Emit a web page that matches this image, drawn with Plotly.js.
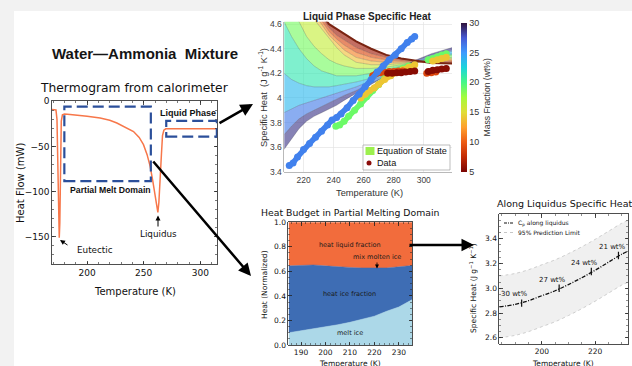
<!DOCTYPE html>
<html><head><meta charset="utf-8">
<script src="https://cdn.plot.ly/plotly-3.0.1.min.js"></script>
<style>html,body{margin:0;padding:0;background:#f2f2f2;}#chart{width:632px;height:366px;}</style>
</head><body><div id="chart"></div>
<script>
// ================= DATA =================
// Thermogram from calorimeter
const thermoT  = [169, 171, 172.5, 173.4, 174.2, 174.9, 175.4, 175.9, 176.5, 177.2, 178.2, 180, 185, 190, 200, 211.5, 220, 226.3, 233, 241, 246, 249.8, 253, 255.7, 258, 260.2, 261.6, 262.5, 263.4, 264.6, 265.6, 266.6, 267.8, 269.5, 275, 290, 305, 315];
const thermoHF = [-9, -9, -9.5, -20, -75, -135, -151, -135, -60, -22, -15, -14, -14.5, -15, -16.5, -18.6, -21, -24, -28, -33.4, -40, -48, -59, -72, -88, -105, -117, -123, -112, -90, -60, -38, -32, -30.5, -30.5, -30.4, -30.5, -30.5];
const thermoXTicks = [200, 250, 300];
const thermoYTicks = [0, -50, -100, -150];

// Liquid phase specific heat: equation-of-state curves (one per mass fraction)
const eosT = [207, 212, 217, 222, 227, 232, 237, 242, 247, 255, 265, 275, 285, 295, 305, 319];
const eosWt = [5, 7.5, 10, 12.5, 15, 17.5, 20, 22.5, 25, 27.5, 30];
const eosCp05   = [6.20, 5.80, 5.40, 5.05, 4.80, 4.68, 4.60, 4.56, 4.52, 4.46, 4.40, 4.35, 4.32, 4.30, 4.285, 4.28];
const eosCp07_5 = [6.00, 5.60, 5.20, 4.95, 4.78, 4.66, 4.57, 4.51, 4.47, 4.41, 4.36, 4.33, 4.31, 4.30, 4.29, 4.29];
const eosCp10   = [5.80, 5.40, 5.05, 4.86, 4.72, 4.63, 4.54, 4.48, 4.43, 4.37, 4.33, 4.31, 4.30, 4.29, 4.29, 4.30];
const eosCp12_5 = [5.60, 5.20, 4.92, 4.78, 4.68, 4.60, 4.51, 4.45, 4.39, 4.33, 4.30, 4.29, 4.29, 4.29, 4.30, 4.31];
const eosCp15   = [5.30, 4.98, 4.82, 4.72, 4.64, 4.56, 4.48, 4.41, 4.35, 4.29, 4.27, 4.27, 4.28, 4.29, 4.31, 4.32];
const eosCp17_5 = [5.00, 4.78, 4.62, 4.50, 4.42, 4.36, 4.31, 4.28, 4.26, 4.24, 4.24, 4.25, 4.27, 4.29, 4.32, 4.33];
const eosCp20   = [4.62, 4.50, 4.40, 4.32, 4.26, 4.22, 4.20, 4.18, 4.18, 4.18, 4.20, 4.23, 4.26, 4.29, 4.32, 4.35];
const eosCp22_5 = [4.20, 4.15, 4.12, 4.10, 4.09, 4.09, 4.09, 4.10, 4.11, 4.13, 4.16, 4.20, 4.25, 4.29, 4.33, 4.36];
const eosCp25   = [3.88, 3.91, 3.94, 3.96, 3.98, 4.00, 4.02, 4.04, 4.06, 4.09, 4.14, 4.19, 4.24, 4.29, 4.34, 4.38];
const eosCp27_5 = [3.70, 3.77, 3.83, 3.87, 3.90, 3.93, 3.96, 3.99, 4.02, 4.06, 4.12, 4.18, 4.24, 4.30, 4.35, 4.39];
const eosCp30   = [3.58, 3.67, 3.75, 3.81, 3.85, 3.88, 3.91, 3.94, 3.98, 4.04, 4.11, 4.18, 4.25, 4.31, 4.36, 4.41];
const eosCurves = [eosCp05, eosCp07_5, eosCp10, eosCp12_5, eosCp15, eosCp17_5, eosCp20, eosCp22_5, eosCp25, eosCp27_5, eosCp30];

// Liquid phase measured data (mass fraction wt% per series)
const blueWt = 26;
const blueT  = [210.5, 213, 216, 220, 224, 228, 232, 236, 239, 242, 245, 249, 253, 257, 261, 265, 269, 273, 277, 281, 285, 289, 292, 294];
const blueCp = [3.45, 3.47, 3.52, 3.58, 3.63, 3.68, 3.73, 3.78, 3.82, 3.84, 3.87, 3.92, 3.98, 4.03, 4.09, 4.15, 4.21, 4.26, 4.31, 4.35, 4.40, 4.45, 4.48, 4.50];
const greenWt = 19;
const greenT  = [241.5, 244, 247, 250, 254, 258, 262, 266, 270, 274, 278, 282, 286, 290, null, 303, 306, 309, 312, 315];
const greenCp = [3.77, 3.78, 3.81, 3.85, 3.90, 3.95, 4.01, 4.06, 4.11, 4.16, 4.19, 4.22, 4.24, 4.26, null, 4.31, 4.32, 4.335, 4.35, 4.36];
const yellowWt = 14;
const yellowT  = [258, 261, 264, 267, 270, 274, 278, 282, 286, 290, 294, null, 306, 309, 312, 315];
const yellowCp = [4.00, 4.03, 4.06, 4.08, 4.11, 4.15, 4.18, 4.21, 4.23, 4.25, 4.27, null, 4.30, 4.31, 4.32, 4.33];
const orangeWt = 9;
const orangeT  = [266, 268, 271, 274, 277, 280, 283, 286, null, 302, 305, 308];
const orangeCp = [4.18, 4.195, 4.205, 4.21, 4.215, 4.215, 4.22, 4.22, null, 4.20, 4.205, 4.21];
const darkWt = 5.5;
const darkT  = [276, 279, 282, 285, 288, 291, 294, null, 303, 306, 309, 312, 315];
const darkCp = [4.20, 4.20, 4.205, 4.205, 4.21, 4.215, 4.22, null, 4.215, 4.225, 4.23, 4.235, 4.24];
const liqXTicks = [220, 240, 260, 280, 300];
const liqYTicks = [3.4, 3.6, 3.8, 4.0, 4.2, 4.4, 4.6];
const liqYTickText = ['3.4', '3.6', '3.8', '4', '4.2', '4.4', '4.6'];
const cbarTicks = [5, 10, 15, 20, 25, 30];

// Heat budget in partial melting domain (normalized fractions, stacked)
const budgetT     = [185, 190, 195, 200, 205, 210, 215, 220, 225, 230, 235.5];
const meltIce     = [0.10, 0.115, 0.13, 0.145, 0.165, 0.185, 0.21, 0.235, 0.275, 0.31, 0.37];
const heatIce     = [0.545, 0.535, 0.522, 0.50, 0.472, 0.447, 0.418, 0.39, 0.353, 0.327, 0.278];
const heatLiquid  = [0.355, 0.35, 0.348, 0.355, 0.363, 0.368, 0.372, 0.375, 0.372, 0.363, 0.352];
const budgetXTicks = [190, 200, 210, 220, 230];
const budgetYTicks = [0, 0.2, 0.4, 0.6, 0.8, 1.0];

// Along liquidus specific heat
const alongT     = [184, 190, 195, 200, 205, 210, 215, 220, 225, 230, 232.5];
const alongCp    = [2.85, 2.87, 2.90, 2.94, 2.98, 3.03, 3.085, 3.145, 3.21, 3.275, 3.30];
const alongUpper = [3.10, 3.12, 3.15, 3.19, 3.23, 3.28, 3.335, 3.395, 3.46, 3.525, 3.55];
const alongLower = [2.60, 2.62, 2.65, 2.69, 2.73, 2.78, 2.835, 2.895, 2.96, 3.025, 3.05];
const ptT      = [192.4, 206.5, 218.6, 228.8];
const ptCp     = [2.88, 3.00, 3.135, 3.265];
const ptErr    = [0.03, 0.03, 0.03, 0.03];
const ptLabels = ['30 wt%', '27 wt%', '24 wt%', '21 wt%'];
const alongXTicks = [200, 220];
const alongYTicks = [2.6, 2.8, 3.0, 3.2, 3.4];

// ================= HELPERS =================
const W = 632, H = 366;
const X = p => p / W;
const Y = p => 1 - p / H;
const dx = (a, b) => [a / W, b / W];
const dy = (top, bot) => [1 - bot / H, 1 - top / H];
const DJ = 'DejaVu Sans';
const LS = 'Liberation Sans, Arial, sans-serif';

const turboR = [[0, '#7a0403'], [0.1, '#c22a04'], [0.2, '#ed5c14'], [0.3, '#fea02e'], [0.4, '#e1dd37'], [0.5, '#a4fc3b'], [0.6, '#46f884'], [0.7, '#1ad5db'], [0.8, '#3e9bfe'], [0.9, '#4659d4'], [1, '#30123b']];
function hex2rgb(h) { return [parseInt(h.slice(1, 3), 16), parseInt(h.slice(3, 5), 16), parseInt(h.slice(5, 7), 16)]; }
function colorAt(c, a) {
  let t = Math.max(0, Math.min(1, (c - 5) / 25));
  for (let i = 1; i < turboR.length; i++) {
    if (t <= turboR[i][0]) {
      const t0 = turboR[i - 1][0], t1 = turboR[i][0];
      const f = (t - t0) / (t1 - t0);
      const c0 = hex2rgb(turboR[i - 1][1]), c1 = hex2rgb(turboR[i][1]);
      const r = c0.map((v, k) => Math.round(v + (c1[k] - v) * f));
      return `rgba(${r[0]},${r[1]},${r[2]},${a})`;
    }
  }
  return 'rgba(48,18,59,' + a + ')';
}

// ================= TRACES =================
const traces = [];

// Thermogram
traces.push({x: thermoT, y: thermoHF, xaxis: 'x', yaxis: 'y', mode: 'lines',
  line: {color: '#f7774a', width: 1.5}, hoverinfo: 'skip'});

// EOS surface bands
eosCurves.forEach((cp, i) => {
  const tr = {x: eosT, y: cp, xaxis: 'x2', yaxis: 'y2', mode: 'lines',
    line: {color: 'rgba(40,40,40,0.35)', width: 0.6}, hoverinfo: 'skip'};
  if (i > 0) {
    const cm = (eosWt[i] + eosWt[i - 1]) / 2;
    tr.fill = 'tonexty';
    tr.fillcolor = colorAt(cm, 0.62);
  }
  traces.push(tr);
});
traces.push({x: eosT, y: eosCp05, xaxis: 'x2', yaxis: 'y2', mode: 'lines',
  line: {color: '#7a2412', width: 2}, hoverinfo: 'skip'});

// Data series
const series = [[greenT, greenCp, greenWt], [yellowT, yellowCp, yellowWt], [orangeT, orangeCp, orangeWt], [darkT, darkCp, darkWt], [blueT, blueCp, blueWt]];
series.forEach(([t, cp, wt]) => {
  traces.push({x: t, y: cp, xaxis: 'x2', yaxis: 'y2', mode: 'lines', connectgaps: false,
    line: {color: colorAt(wt, 1), width: 5.5}, hoverinfo: 'skip'});
  traces.push({x: t, y: cp, xaxis: 'x2', yaxis: 'y2', mode: 'markers',
    marker: {size: 7, color: t.map(() => wt), coloraxis: 'coloraxis', line: {width: 0}}, hoverinfo: 'skip'});
});

// Heat budget stacked
[[meltIce, '#acd8e8'], [heatIce, '#3e6db4'], [heatLiquid, '#f26c3c']].forEach(([v, col]) => {
  traces.push({x: budgetT, y: v, xaxis: 'x3', yaxis: 'y3', stackgroup: 'hb', mode: 'lines',
    line: {width: 0.5, color: col}, fillcolor: col, hoverinfo: 'skip'});
});

// Along liquidus
traces.push({x: alongT, y: alongLower, xaxis: 'x4', yaxis: 'y4', mode: 'lines',
  line: {color: '#c4c4c4', width: 0.8, dash: 'dot', shape: 'spline'}, hoverinfo: 'skip'});
traces.push({x: alongT, y: alongUpper, xaxis: 'x4', yaxis: 'y4', mode: 'lines', fill: 'tonexty', fillcolor: '#f0f0f0',
  line: {color: '#c4c4c4', width: 0.8, dash: 'dot', shape: 'spline'}, hoverinfo: 'skip'});
traces.push({x: alongT, y: alongCp, xaxis: 'x4', yaxis: 'y4', mode: 'lines',
  line: {color: '#111', width: 1.3, dash: '4px,1.5px,1px,1.5px', shape: 'spline'}, hoverinfo: 'skip'});
traces.push({x: ptT, y: ptCp, xaxis: 'x4', yaxis: 'y4', mode: 'markers',
  marker: {size: 1, color: '#111'},
  error_y: {type: 'data', array: ptErr, visible: true, color: '#111', thickness: 1.2, width: 0}, hoverinfo: 'skip'});

// ================= LAYOUT =================
function mplAxis(domain, range, tickvals, extra) {
  return Object.assign({domain, range, tickvals, ticks: 'inside', ticklen: 3.5, tickwidth: 0.8, tickcolor: '#222',
    mirror: 'allticks', showline: true, linecolor: '#222', linewidth: 0.8, showgrid: false, zeroline: false,
    tickfont: {family: DJ, size: 7.5, color: '#111'}, fixedrange: true}, extra || {});
}

const layout = {
  width: W, height: H, margin: {l: 0, r: 0, t: 0, b: 0},
  paper_bgcolor: '#f2f2f2', plot_bgcolor: 'rgba(255,255,255,0)', showlegend: false,
  font: {family: DJ, color: '#111'},
  xaxis: mplAxis(dx(52, 217.3), [169, 315], thermoXTicks, {anchor: 'y', tickfont: {family: DJ, size: 9, color: '#111'},
    minor: {ticks: 'inside', ticklen: 2, dtick: 10, tickcolor: '#222', tickwidth: 0.6}}),
  yaxis: mplAxis(dy(101.3, 264), [-180, 0], thermoYTicks, {anchor: 'x', tickfont: {family: DJ, size: 9, color: '#111'},
    minor: {ticks: 'inside', ticklen: 2, dtick: 10, tickcolor: '#222', tickwidth: 0.6}}),
  xaxis2: {domain: dx(284.3, 452), range: [207.2, 318.8], tickvals: liqXTicks, anchor: 'y2',
    showgrid: true, gridcolor: '#e4e4e4', gridwidth: 0.7, showline: true, linecolor: '#a8a8a8', linewidth: 0.8,
    ticks: '', zeroline: false, tickfont: {family: LS, size: 8.5, color: '#404040'}},
  yaxis2: {domain: dy(21.7, 171.7), range: [3.4, 4.62], tickvals: liqYTicks, ticktext: liqYTickText, anchor: 'x2',
    showgrid: true, gridcolor: '#e4e4e4', gridwidth: 0.7, showline: true, linecolor: '#a8a8a8', linewidth: 0.8,
    ticks: '', zeroline: false, tickfont: {family: LS, size: 8.5, color: '#404040'}},
  xaxis3: mplAxis(dx(288.3, 412.3), [184.8, 235.5], budgetXTicks, {anchor: 'y3',
    minor: {ticks: 'inside', ticklen: 2, dtick: 2, tickcolor: '#222', tickwidth: 0.5}}),
  yaxis3: mplAxis(dy(222.3, 345), [0, 1], budgetYTicks, {anchor: 'x3', ticktext: ['0.0', '0.2', '0.4', '0.6', '0.8', '1.0'],
    minor: {ticks: 'inside', ticklen: 2, dtick: 0.05, tickcolor: '#222', tickwidth: 0.5}}),
  xaxis4: mplAxis(dx(499.3, 628.3), [184, 232.5], alongXTicks, {anchor: 'y4',
    minor: {ticks: 'inside', ticklen: 2, dtick: 5, tickcolor: '#222', tickwidth: 0.5}}),
  yaxis4: mplAxis(dy(214, 344), [2.55, 3.6], alongYTicks, {anchor: 'x4', ticktext: ['2.6', '2.8', '3.0', '3.2', '3.4'],
    minor: {ticks: 'inside', ticklen: 2, dtick: 0.05, tickcolor: '#222', tickwidth: 0.5}}),
  coloraxis: {cmin: 5, cmax: 30, colorscale: turboR,
    colorbar: {x: X(461), xanchor: 'left', y: Y(97.2), yanchor: 'middle', len: 149, lenmode: 'pixels',
      thickness: 5.5, thicknessmode: 'pixels', outlinewidth: 0, xpad: 0, ypad: 0, ticks: '',
      tickvals: cbarTicks, tickfont: {family: LS, size: 9, color: '#333'}}},
  shapes: [
    {type: 'rect', xref: 'paper', yref: 'paper', x0: X(14), x1: 1, y0: 0, y1: Y(11), fillcolor: '#ffffff', line: {width: 0}, layer: 'below'},
    // thermogram dashed boxes
    {type: 'rect', xref: 'x', yref: 'y', x0: 179.9, x1: 256.3, y0: -88.3, y1: -6, line: {color: '#2b4f9a', width: 2.2, dash: '11px,5px'}},
    {type: 'rect', xref: 'x', yref: 'y', x0: 269.9, x1: 314.6, y0: -39.1, y1: -21.7, line: {color: '#2b4f9a', width: 2.2, dash: '11px,5px'}},
    // liquid legend box
    {type: 'rect', xref: 'paper', yref: 'paper', x0: X(363), x1: X(450), y0: Y(170), y1: Y(145), fillcolor: '#ffffff', line: {color: '#a0a0a0', width: 0.7}},
    {type: 'rect', xref: 'paper', yref: 'paper', x0: X(365.5), x1: X(374.5), y0: Y(155), y1: Y(147), fillcolor: '#9cf04e', line: {width: 0}},
    {type: 'circle', xref: 'paper', yref: 'paper', x0: X(366.5), x1: X(371.5), y0: Y(165.5), y1: Y(160.5), fillcolor: '#8b0d0a', line: {width: 0}},
    // along-liquidus legend samples
    {type: 'line', xref: 'paper', yref: 'paper', x0: X(504), x1: X(514), y0: Y(223), y1: Y(223), line: {color: '#111', width: 1, dash: '3px,1px,1px,1px'}},
    {type: 'line', xref: 'paper', yref: 'paper', x0: X(504), x1: X(514), y0: Y(232.5), y1: Y(232.5), line: {color: '#b8b8b8', width: 0.8, dash: 'dot'}}
  ],
  annotations: []
};

function txt(text, x, y, size, opts) {
  layout.annotations.push(Object.assign({text, x: X(x), y: Y(y), xref: 'paper', yref: 'paper', showarrow: false,
    xanchor: 'center', yanchor: 'middle', font: {family: DJ, size, color: '#111'}}, opts || {}));
}
function arrow(tx, ty, hx, hy, w, head) {
  layout.annotations.push({text: '', x: X(hx), y: Y(hy), xref: 'paper', yref: 'paper', showarrow: true,
    ax: tx - hx, ay: ty - hy, arrowhead: head || 2, arrowsize: 1, arrowwidth: w, arrowcolor: '#000', standoff: 0, startstandoff: 0});
}

// Thermogram texts
txt('<b>Water\u2014Ammonia  Mixture</b>', 145, 54, 15, {font: {family: LS, size: 15, color: '#151515'}});
txt('Thermogram from calorimeter', 134, 88, 12.3);
txt('Heat Flow (mW)', 20, 183, 10, {textangle: -90});
txt('Temperature (K)', 134.5, 291, 10);
txt('<b>Liquid Phase</b>', 188, 113, 9, {font: {family: LS, size: 9, color: '#111'}});
txt('<b>Partial Melt Domain</b>', 110.5, 190, 8.7, {font: {family: LS, size: 8.7, color: '#111'}});
txt('Eutectic', 95, 250, 8.8);
txt('Liquidus', 158, 234, 8.8);
arrow(69, 246, 60, 240, 1, 2);
arrow(158, 228, 158, 215.5, 1, 2);

// Liquid phase texts
txt('<b>Liquid Phase Specific Heat</b>', 367, 16, 10, {font: {family: LS, size: 10, color: '#222'}});
txt('Specific Heat  (J g<sup>-1</sup> K<sup>-1</sup>)', 263, 98, 9.3, {textangle: -90, font: {family: LS, size: 9.3, color: '#333'}});
txt('Temperature (K)', 369, 193, 9.3, {font: {family: LS, size: 9.3, color: '#333'}});
txt('Mass Fraction (wt%)', 486, 97.5, 8.6, {textangle: -90, font: {family: LS, size: 8.6, color: '#333'}});
txt('Equation of State', 375, 151, 9.1, {xanchor: 'left', font: {family: LS, size: 9.1, color: '#111'}});
txt('Data', 375, 163, 9.1, {xanchor: 'left', font: {family: LS, size: 9.1, color: '#111'}});

// Heat budget texts
txt('Heat Budget in Partial Melting Domain', 350, 212, 9.3);
txt('Heat (Normalized)', 264, 285, 7.5, {textangle: -90});
txt('Temperature (K)', 350, 363, 7.5);
txt('heat liquid fraction', 350, 245, 6.5, {font: {family: DJ, size: 6.5, color: '#1a1a1a'}});
txt('mix molten ice', 377, 257, 6.5, {font: {family: DJ, size: 6.5, color: '#1a1a1a'}});
txt('heat ice fraction', 350, 294, 6.5, {font: {family: DJ, size: 6.5, color: '#1a1a1a'}});
txt('melt ice', 350, 332.7, 6.5, {font: {family: DJ, size: 6.5, color: '#1a1a1a'}});
arrow(377, 261, 377, 268.5, 0.8, 2);

// Along liquidus texts
txt('Along Liquidus Specific Heat', 495, 204, 9.5, {xanchor: 'left'});
txt('Specific Heat (J g<sup>\u22121</sup> K<sup>\u22121</sup>)', 473, 288, 7.5, {textangle: -90});
txt('Temperature (K)', 563, 363, 7.5);
txt('C<sub>p</sub> along liquidus', 516, 223, 6, {xanchor: 'left'});
txt('95% Prediction Limit', 516, 232.5, 6, {xanchor: 'left'});
const lblPos = [[514, 294], [552, 280], [584.5, 263.3], [612, 247.3]];
ptLabels.forEach((l, i) => txt(l, lblPos[i][0], lblPos[i][1], 7));

// Big connector arrows
arrow(218, 124, 253, 104, 2.5, 2);
arrow(152, 160, 251, 276, 2.5, 2);
arrow(408, 245, 474, 245, 2.5, 2);

Plotly.newPlot('chart', traces, layout, {staticPlot: true, displayModeBar: false});
</script></body></html>
